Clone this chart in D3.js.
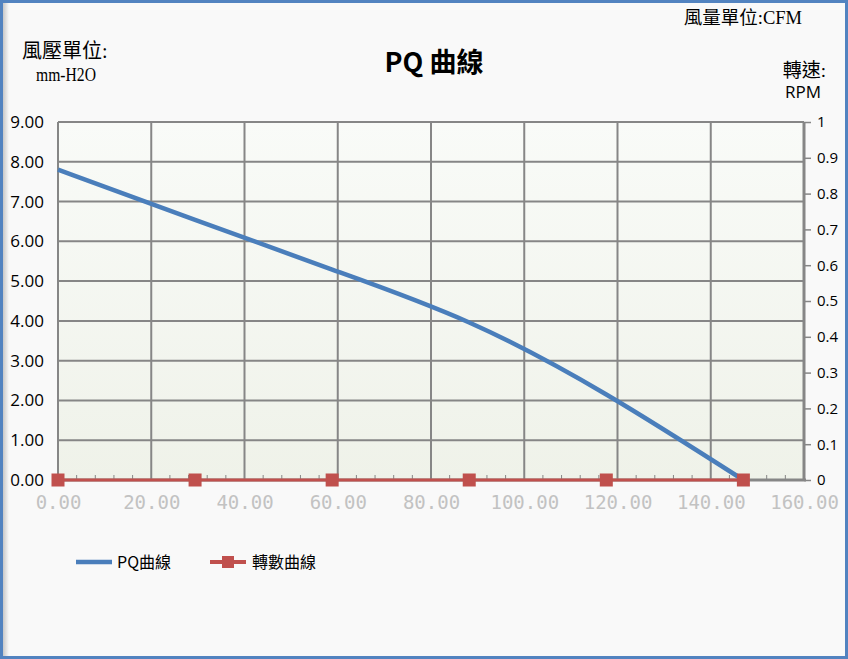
<!DOCTYPE html>
<html><head><meta charset="utf-8">
<script src="https://cdn.jsdelivr.net/npm/d3@7"></script>
<style>html,body{margin:0;padding:0;background:#fff;}svg{display:block;}</style>
</head><body>
<script>
// ---- data ----
const flow = [0, 29.4, 58.8, 88.2, 117.6, 147];           // CFM
const pressure = [7.8, 6.54, 5.29, 3.96, 2.15, 0];         // mm-H2O
const speed = [0, 0, 0, 0, 0, 0];                          // RPM (secondary axis)
const xTicks = [0, 20, 40, 60, 80, 100, 120, 140, 160];
const yTicks = [0, 1, 2, 3, 4, 5, 6, 7, 8, 9];
const y2Ticks = [0, 0.1, 0.2, 0.3, 0.4, 0.5, 0.6, 0.7, 0.8, 0.9, 1];
const seriesNames = ["PQ曲線", "轉數曲線"];

const W = 848, H = 659;
const m = {l: 58, r: 804, t: 122, b: 480};
const svg = d3.select("body").append("svg").attr("width", W).attr("height", H);
const defs = svg.append("defs");
const pg = defs.append("linearGradient").attr("id", "pg").attr("x1", 0).attr("y1", 0).attr("x2", 0).attr("y2", 1);
pg.append("stop").attr("offset", 0).attr("stop-color", "#f9fbf8");
pg.append("stop").attr("offset", 1).attr("stop-color", "#eff2e9");
const sg = defs.append("linearGradient").attr("id", "sg").attr("x1", 0).attr("y1", 0).attr("x2", 1).attr("y2", 0);
sg.append("stop").attr("offset", 0).attr("stop-color", "#c8c8c8");
sg.append("stop").attr("offset", 1).attr("stop-color", "#f9f9f9");

// background + frame
svg.append("rect").attr("x", 0).attr("y", 0).attr("width", W).attr("height", H).attr("fill", "#f9f9f9");
svg.append("rect").attr("x", 3).attr("y", 3).attr("width", 6).attr("height", H - 6).attr("fill", "url(#sg)");
svg.append("rect").attr("x", 1.5).attr("y", 1.5).attr("width", W - 3).attr("height", H - 3)
  .attr("fill", "none").attr("stroke", "#5283c0").attr("stroke-width", 3);

const x = d3.scaleLinear().domain([0, 160]).range([m.l, m.r]);
const y = d3.scaleLinear().domain([0, 9]).range([m.b, m.t]);
const y2 = d3.scaleLinear().domain([0, 1]).range([m.b, m.t]);

// plot area
svg.append("rect").attr("x", m.l).attr("y", m.t).attr("width", m.r - m.l).attr("height", m.b - m.t).attr("fill", "url(#pg)");

const grid = "#868686";
// gridlines
svg.append("g").selectAll("line").data(yTicks).join("line")
  .attr("x1", m.l).attr("x2", m.r).attr("y1", d => y(d)).attr("y2", d => y(d))
  .attr("stroke", grid).attr("stroke-width", 2);
svg.append("g").selectAll("line").data(xTicks).join("line")
  .attr("y1", m.t).attr("y2", m.b).attr("x1", d => x(d)).attr("x2", d => x(d))
  .attr("stroke", grid).attr("stroke-width", 2);

// minor x ticks (inside)
const minor = d3.range(0, 161, 4).filter(v => v % 20 !== 0);
svg.append("g").selectAll("line").data(minor).join("line")
  .attr("x1", d => x(d)).attr("x2", d => x(d)).attr("y1", m.b).attr("y2", m.b - 5)
  .attr("stroke", grid).attr("stroke-width", 1);

// axes frame
svg.append("line").attr("x1", m.l).attr("x2", m.r + 2).attr("y1", m.b).attr("y2", m.b).attr("stroke", grid).attr("stroke-width", 3);
svg.append("line").attr("x1", m.r).attr("x2", m.r).attr("y1", m.t).attr("y2", m.b).attr("stroke", grid).attr("stroke-width", 3);
svg.append("line").attr("x1", m.l).attr("x2", m.l).attr("y1", m.t).attr("y2", m.b).attr("stroke", grid).attr("stroke-width", 2);

// left axis
const yAxis = svg.append("g").attr("transform", `translate(${m.l},0)`)
  .call(d3.axisLeft(y).tickValues(yTicks).tickFormat(d3.format(".2f")).tickSize(0).tickPadding(14));
yAxis.select(".domain").remove();
yAxis.selectAll("text").attr("font-family", "'Open Sans','Noto Sans',sans-serif").attr("font-size", 17).attr("fill", "#000");

// right axis
const y2Axis = svg.append("g").attr("transform", `translate(${m.r},0)`)
  .call(d3.axisRight(y2).tickValues(y2Ticks).tickFormat(d => d3.format("")(+d.toFixed(1))).tickSize(7).tickPadding(6));
y2Axis.select(".domain").remove();
y2Axis.selectAll("line").attr("stroke", grid).attr("stroke-width", 1.5);
y2Axis.selectAll("text").attr("font-family", "'Open Sans','Noto Sans',sans-serif").attr("font-size", 15).attr("fill", "#000");

// bottom axis labels
const xAxis = svg.append("g").attr("transform", `translate(0,${m.b})`)
  .call(d3.axisBottom(x).tickValues(xTicks).tickFormat(d3.format(".2f")).tickSize(0).tickPadding(16));
xAxis.select(".domain").remove();
xAxis.selectAll("text").attr("font-family", "'DejaVu Sans Mono',monospace").attr("font-size", 19)
  .attr("fill", "#c2c2c2");

// PQ curve
const line = d3.line().x((d, i) => x(flow[i])).y(d => y(d)).curve(d3.curveNatural);
svg.append("path").datum(pressure).attr("d", line).attr("fill", "none")
  .attr("stroke", "#4a7ebb").attr("stroke-width", 4.5).attr("stroke-linecap", "butt");

// speed series
const line2 = d3.line().x((d, i) => x(flow[i])).y(d => y2(d));
svg.append("path").datum(speed).attr("d", line2).attr("fill", "none")
  .attr("stroke", "#c0504d").attr("stroke-width", 3);
svg.append("g").selectAll("rect").data(speed).join("rect")
  .attr("x", (d, i) => x(flow[i]) - 6.5).attr("y", d => y2(d) - 6.5)
  .attr("width", 13).attr("height", 13).attr("fill", "#c0504d");

// titles
svg.append("text").attr("x", 434).attr("y", 72).attr("text-anchor", "middle")
  .attr("font-family", "'Noto Sans CJK TC',sans-serif").attr("font-weight", "bold").attr("font-size", 27)
  .text("PQ 曲線");
const serif = "'Liberation Serif','Noto Sans CJK TC',serif";
svg.append("text").attr("x", 22).attr("y", 58).attr("font-family", serif).attr("font-size", 20).text("風壓單位:");
svg.append("text").attr("x", 36).attr("y", 81).attr("font-family", serif).attr("font-size", 18)
  .attr("textLength", 60).attr("lengthAdjust", "spacingAndGlyphs").text("mm-H2O");
svg.append("text").attr("x", 802).attr("y", 24).attr("text-anchor", "end").attr("font-family", serif).attr("font-size", 18.5).text("風量單位:CFM");
svg.append("text").attr("x", 826).attr("y", 77).attr("text-anchor", "end").attr("font-family", serif).attr("font-size", 19).text("轉速:");
svg.append("text").attr("x", 803).attr("y", 98).attr("text-anchor", "middle").attr("font-family", "'Open Sans','Noto Sans',sans-serif").attr("font-size", 17).text("RPM");

// legend
const lg = svg.append("g");
lg.append("line").attr("x1", 76).attr("x2", 112).attr("y1", 562).attr("y2", 562).attr("stroke", "#4a7ebb").attr("stroke-width", 4.5);
lg.append("text").attr("x", 117).attr("y", 568).attr("font-family", "'Noto Sans CJK TC',sans-serif").attr("font-size", 16).text(seriesNames[0]);
lg.append("line").attr("x1", 210).attr("x2", 246).attr("y1", 562).attr("y2", 562).attr("stroke", "#c0504d").attr("stroke-width", 4);
lg.append("rect").attr("x", 222).attr("y", 556).attr("width", 12).attr("height", 12).attr("fill", "#c0504d");
lg.append("text").attr("x", 252).attr("y", 568).attr("font-family", "'Noto Sans CJK TC',sans-serif").attr("font-size", 16).text(seriesNames[1]);
</script>
</body></html>
